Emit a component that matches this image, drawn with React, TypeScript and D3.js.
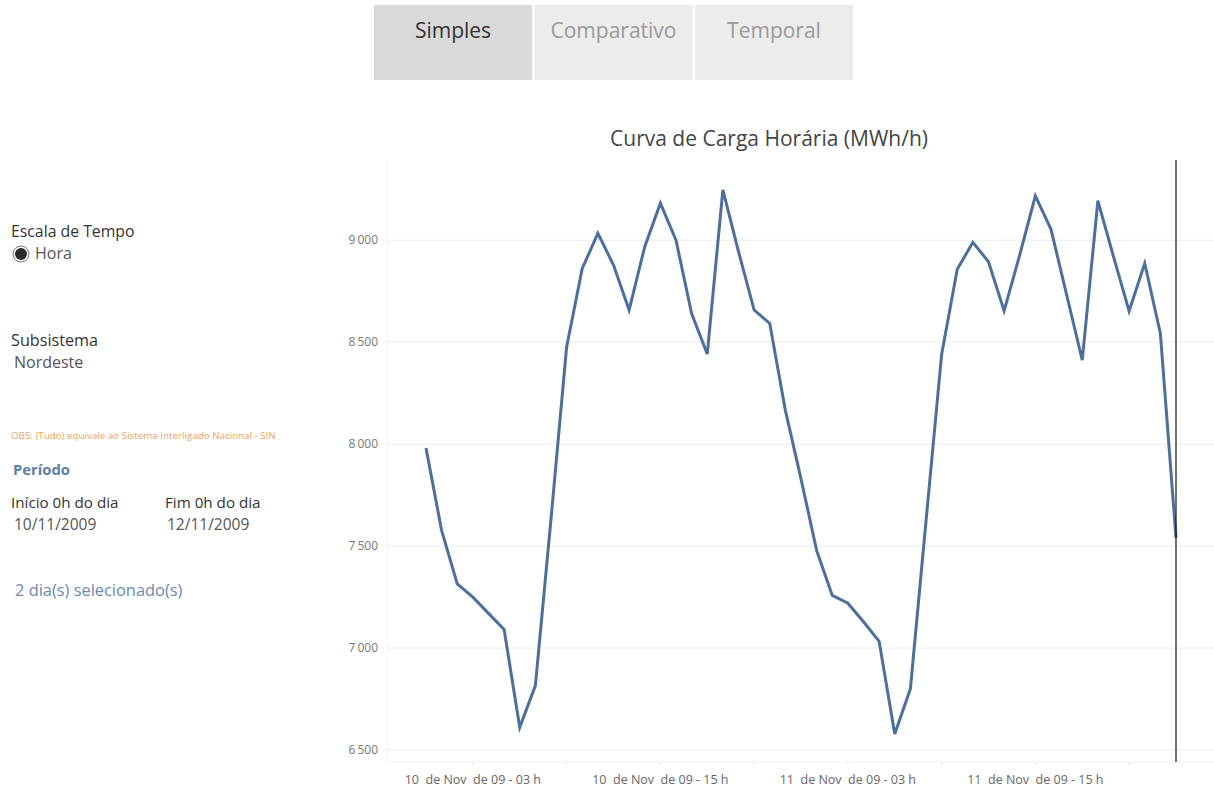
import React from "react";
import * as d3 from "d3";

const hours: number[] = Array.from({ length: 49 }, (_, i) => i);
const load: number[] = [
  7981, 7577, 7315, 7250, 7170, 7091, 6611, 6816, 7633, 8477,
  8862, 9034, 8879, 8658, 8969, 9182, 9001, 8641, 8442, 9247,
  8945, 8658, 8592, 8166, 7830, 7479, 7258, 7220, 7129, 7033,
  6579, 6800, 7622, 8440, 8858, 8990, 8895, 8654, 8929, 9218,
  9054, 8733, 8412, 9194, 8920, 8653, 8887, 8543, 7541,
];
const yTicks: number[] = [6500, 7000, 7500, 8000, 8500, 9000];
const xTickHours: number[] = [3, 9, 15, 21, 27, 33, 39, 45];
const xLabelHours: number[] = [3, 15, 27, 39];
const xLabelTexts: string[] = [
  "10  de Nov  de 09 - 03 h",
  "10  de Nov  de 09 - 15 h",
  "11  de Nov  de 09 - 03 h",
  "11  de Nov  de 09 - 15 h",
];
const tabs: string[] = ["Simples", "Comparativo", "Temporal"];

const W = 1214;
const H = 787;
const FONT = "'Open Sans', 'Noto Sans', sans-serif";

export default function App() {
  const plotLeft = 387;
  const plotRight = 1214;
  const plotTop = 160;
  const plotBottom = 762;

  const x = d3.scaleLinear().domain([0, 48]).range([426, 1176]);
  const y = d3.scaleLinear().domain([6500, 9000]).range([750, 240.3]);

  const line = d3
    .line<number>()
    .x((_, i) => x(hours[i]))
    .y((d) => y(d));

  const fmt = (v: number) => d3.format(",")(v).replace(",", "\u2009");

  return (
    <svg
      width={W}
      height={H}
      style={{ position: "absolute", left: 0, top: 0, background: "#fff" }}
      fontFamily={FONT}
    >
      {/* Tabs */}
      {tabs.map((t, i) => {
        const tx = 374 + i * 160.5;
        return (
          <g key={t}>
            <rect x={tx} y={5} width={158} height={75} fill={i === 0 ? "#d9d9d9" : "#ececec"} />
            <text
              x={tx + 79}
              y={38}
              textAnchor="middle"
              fontSize={21}
              fill={i === 0 ? "#333" : "#9a9a9a"}
            >
              {t}
            </text>
          </g>
        );
      })}

      {/* Left panel */}
      <text x={11} y={237} fontSize={15.8} fill="#333">Escala de Tempo</text>
      <circle cx={21} cy={254} r={8} fill="#fff" stroke="#777" strokeWidth={1} />
      <circle cx={21} cy={254} r={6} fill="#2b2b2b" />
      <text x={35} y={259} fontSize={16} fill="#555">Hora</text>

      <text x={11} y={346} fontSize={16.2} fill="#333">Subsistema</text>
      <text x={14} y={368} fontSize={16} fill="#555">Nordeste</text>

      <text x={11} y={439} fontSize={9.8} fill="#eda45a">
        OBS: (Tudo) equivale ao Sistema Interligado Nacional - SIN
      </text>

      <text x={13} y={475} fontSize={14.8} fontWeight="bold" fill="#5b7ea6">Período</text>

      <text x={11} y={508} fontSize={15.2} fill="#333">Início 0h do dia</text>
      <text x={165} y={508} fontSize={15.2} fill="#333">Fim 0h do dia</text>
      <text x={14} y={530} fontSize={15.5} fill="#555">10/11/2009</text>
      <text x={167} y={530} fontSize={15.5} fill="#555">12/11/2009</text>

      <text x={15} y={596} fontSize={16.4} fill="#6a8ab0">2 dia(s) selecionado(s)</text>

      {/* Title */}
      <text x={769} y={146} textAnchor="middle" fontSize={21} fill="#444">
        Curva de Carga Horária (MWh/h)
      </text>

      {/* Grid */}
      {yTicks.map((t) => (
        <g key={t}>
          <line x1={plotLeft} x2={plotRight} y1={y(t)} y2={y(t)} stroke="#ececec" strokeWidth={1} />
          <text x={378} y={y(t) + 4} textAnchor="end" fontSize={12} fill="#777">
            {fmt(t)}
          </text>
        </g>
      ))}
      <line x1={plotLeft} x2={plotRight} y1={plotBottom} y2={plotBottom} stroke="#f0f0f0" />
      <line x1={plotLeft} x2={plotLeft} y1={plotTop} y2={plotBottom} stroke="#f3f3f3" />

      {/* X ticks */}
      {xTickHours.map((h) => (
        <line key={h} x1={x(h)} x2={x(h)} y1={plotBottom} y2={plotBottom + 5} stroke="#ececec" />
      ))}
      {xLabelHours.map((h, i) => (
        <text
          key={h}
          x={x(h)}
          y={784}
          textAnchor="middle"
          fontSize={12.5}
          fill="#666"
          style={{ whiteSpace: "pre" }}
        >
          {xLabelTexts[i]}
        </text>
      ))}

      {/* Data line */}
      <path d={line(load) || ""} fill="none" stroke="#4c6f9b" strokeWidth={3} strokeLinejoin="miter" />

      {/* Vertical reference line */}
      <line x1={x(48)} x2={x(48)} y1={plotTop} y2={plotBottom} stroke="#111" strokeWidth={1.2} />
    </svg>
  );
}
